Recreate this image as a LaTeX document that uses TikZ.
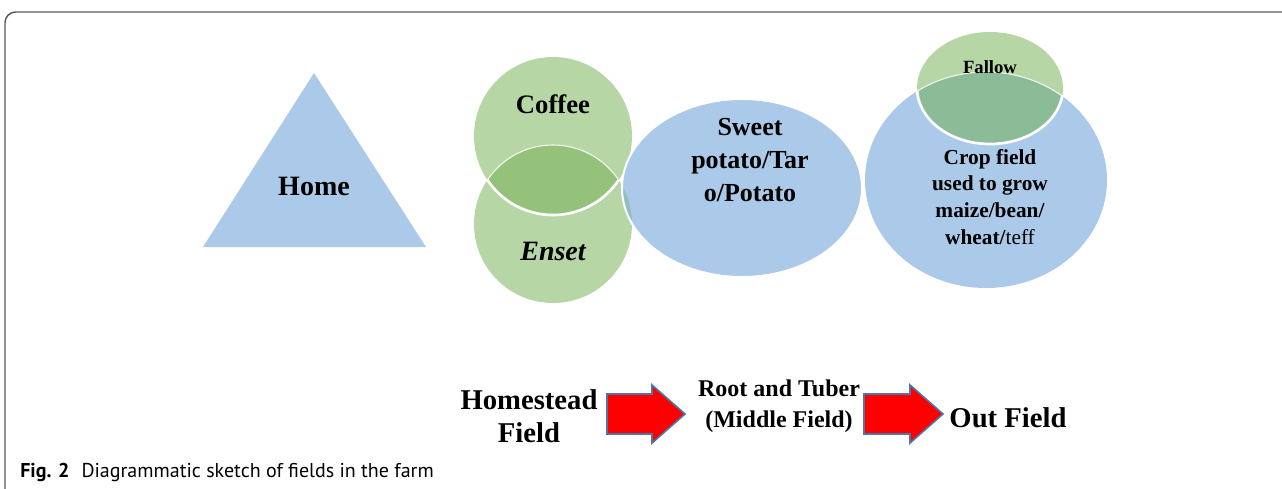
\documentclass[tikz,border=0pt]{standalone}
\usepackage{fontspec}
\setmainfont{Liberation Serif}
\newfontfamily\capfont{PT Sans}
\usetikzlibrary{calc}
\definecolor{fieldblue}{HTML}{ABC9E8}
\definecolor{fieldgreen}{HTML}{B7D6A5}
\definecolor{lensgreen}{HTML}{95C27A}
\definecolor{fallowmix}{HTML}{8CBB97}
\definecolor{potatomix}{HTML}{8FBFBE}
\definecolor{arrowedge}{HTML}{4A76A8}
\newcommand{\fieldarrow}[2]{
  \draw[blockarrow] ($ #1 + (0,-20) $) -- ($ #2 + (-33,-20) $) -- ($ #2 + (-33,-29) $)
    -- #2 -- ($ #2 + (-33,29) $) -- ($ #2 + (-33,20) $) -- ($ #1 + (0,20) $) -- cycle;
}
\newcommand{\bigfont}[2]{\fontsize{#1}{#2}\selectfont\bfseries}

\begin{document}
\begin{tikzpicture}[x=0.75pt,y=-0.75pt,
    blockarrow/.style={fill=red,draw=arrowedge,line width=1.2pt,line join=miter},
    fieldtext/.style={align=center,inner sep=0pt}]
  \useasboundingbox (0,0) rectangle (1282,489);
  % frame
  \draw[gray!70!black,line width=1.1pt,rounded corners=8pt] (5,489) -- (5,12) -- (1282,12);

  % home
  \fill[fieldblue] (314,73) -- (426,247) -- (203,247) -- cycle;
  \node[fieldtext,font=\bigfont{21}{25}] (home) at (314,186) {Home};

  % coffee and enset
  \fill[fieldgreen] (553,224) circle[radius=79];
  \fill[fieldgreen] (553,136) circle[radius=79];
  \begin{scope}
    \clip (553,136) circle[radius=79];
    \fill[lensgreen] (553,224) circle[radius=79];
    \draw[white!85!fieldgreen,line width=0.8pt] (553,224) circle[radius=79];
  \end{scope}
  \begin{scope}
    \clip (553,224) circle[radius=79];
    \draw[white,line width=2pt] (553,136) circle[radius=79];
  \end{scope}

  % sweet potato
  \fill[fieldblue] (742,188) ellipse[x radius=120,y radius=89];
  \begin{scope}
    \clip (742,188) ellipse[x radius=120,y radius=89];
    \fill[potatomix] (553,136) circle[radius=79] (553,224) circle[radius=79];
  \end{scope}
  \draw[white,line width=1.5pt] (742,188) ellipse[x radius=120,y radius=89];

  % crop field and fallow
  \fill[fieldblue] (986,180) ellipse[x radius=121,y radius=108];
  \fill[fieldgreen] (990,88) ellipse[x radius=73,y radius=56];
  \begin{scope}
    \clip (990,88) ellipse[x radius=73,y radius=56];
    \fill[fallowmix] (986,180) ellipse[x radius=121,y radius=108];
    \draw[white!80!fieldgreen,line width=0.8pt] (986,180) ellipse[x radius=121,y radius=108];
  \end{scope}
  \begin{scope}
    \clip (986,180) ellipse[x radius=121,y radius=108];
    \draw[white,line width=2pt] (990,88) ellipse[x radius=73,y radius=56];
  \end{scope}

  \node[fieldtext,font=\bigfont{20}{24}] (coffee) at (553,104) {Coffee};
  \node[fieldtext,font=\bigfont{21}{25}\itshape] (enset) at (553,251) {Enset};
  \node[fieldtext,font=\bigfont{19.5}{24.75}] (sweet) at (750,160) {Sweet\\potato/Tar\\o/Potato};
  \node[fieldtext,font=\bigfont{14}{17}] (fallow) at (990,67) {Fallow};
  \node[fieldtext,font=\bigfont{16}{20.2}] (crop) at (990,197)
    {Crop field\\used to grow\\maize/bean/\\wheat/{\mdseries teff}};

  % bottom row
  \node[fieldtext,font=\bigfont{21.5}{24.75}] (homestead) at (529,416) {Homestead\\Field};
  \node[fieldtext,font=\bigfont{18}{23}] (middle) at (779,406) {Root and Tuber\\(Middle Field)};
  \node[fieldtext,font=\bigfont{21.5}{25}] (out) at (1008,418) {Out Field};
  \coordinate (a1s) at (607,414);
  \coordinate (a1e) at (685,414);
  \coordinate (a2s) at (864,414);
  \coordinate (a2e) at (943,414);
  \fieldarrow{(a1s)}{(a1e)}
  \fieldarrow{(a2s)}{(a2e)}

  % caption
  \node[anchor=west,inner sep=0pt,font=\capfont\fontsize{15}{18}\selectfont] (caption) at (20,472)
    {\textbf{Fig. 2}\hspace{0.6em}Diagrammatic sketch of fields in the farm};
\end{tikzpicture}
\end{document}
